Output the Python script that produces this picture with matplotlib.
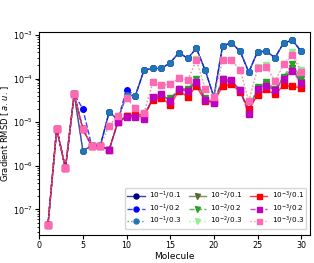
import matplotlib
matplotlib.use('Agg')
import matplotlib.pyplot as plt
import numpy as np
from matplotlib.colors import to_rgba

molecules = np.arange(1, 31)

# 10^-1 series
g1_01 = [4.5e-8, 7.1e-6, 8.7e-7, 4.4e-5, 2.2e-6, 2.9e-6, 2.9e-6, 1.7e-5, 1.15e-5, 4.2e-5,
         4.0e-5, 1.55e-4, 1.7e-4, 1.7e-4, 2.3e-4, 3.9e-4, 2.9e-4, 4.9e-4, 1.55e-4, 3.8e-5,
         5.6e-4, 6.6e-4, 4.2e-4, 1.4e-4, 4.1e-4, 4.2e-4, 3.0e-4, 6.6e-4, 7.5e-4, 4.2e-4]
g1_02 = [4.5e-8, 7.1e-6, 8.7e-7, 4.4e-5, 2.0e-5, 2.9e-6, 2.9e-6, 1.7e-5, 1.15e-5, 5.5e-5,
         4.0e-5, 1.55e-4, 1.7e-4, 1.7e-4, 2.3e-4, 3.9e-4, 2.9e-4, 4.9e-4, 1.55e-4, 3.8e-5,
         5.6e-4, 6.6e-4, 4.2e-4, 1.4e-4, 4.1e-4, 4.2e-4, 3.0e-4, 6.6e-4, 7.5e-4, 4.2e-4]
g1_03 = [4.5e-8, 7.1e-6, 8.7e-7, 4.4e-5, 2.2e-6, 2.9e-6, 2.9e-6, 1.7e-5, 1.15e-5, 4.2e-5,
         4.0e-5, 1.55e-4, 1.7e-4, 1.7e-4, 2.3e-4, 3.9e-4, 2.9e-4, 4.9e-4, 1.55e-4, 3.8e-5,
         5.6e-4, 6.6e-4, 4.2e-4, 1.4e-4, 4.1e-4, 4.2e-4, 3.0e-4, 6.6e-4, 7.5e-4, 4.2e-4]

# 10^-2 series
g2_01 = [4.5e-8, 7.1e-6, 8.7e-7, 4.4e-5, 6.8e-6, 2.9e-6, 2.9e-6, 2.3e-6, 1.0e-5, 1.35e-5,
         1.4e-5, 1.3e-5, 3.5e-5, 4.0e-5, 3.2e-5, 5.5e-5, 5.5e-5, 8.5e-5, 3.3e-5, 2.8e-5,
         8.5e-5, 8.5e-5, 5.2e-5, 1.8e-5, 5.8e-5, 7.5e-5, 5.5e-5, 1.05e-4, 1.7e-4, 8.5e-5]
g2_02 = [4.5e-8, 7.1e-6, 8.7e-7, 4.4e-5, 6.8e-6, 2.9e-6, 2.9e-6, 2.3e-6, 1.0e-5, 1.35e-5,
         1.4e-5, 1.3e-5, 3.6e-5, 3.8e-5, 3.5e-5, 5.8e-5, 5.9e-5, 9.5e-5, 3.6e-5, 3.0e-5,
         9.5e-5, 8.8e-5, 5.5e-5, 1.9e-5, 6.4e-5, 8.3e-5, 5.8e-5, 1.1e-4, 2.2e-4, 9.5e-5]
g2_03 = [4.5e-8, 7.1e-6, 8.7e-7, 4.4e-5, 6.8e-6, 2.9e-6, 2.9e-6, 8.3e-6, 1.4e-5, 3.5e-5,
         2.1e-5, 1.6e-5, 8.1e-5, 7.0e-5, 7.3e-5, 1.03e-4, 9.1e-5, 2.8e-4, 5.9e-5, 3.8e-5,
         2.6e-4, 2.6e-4, 1.6e-4, 3.0e-5, 1.8e-4, 2.0e-4, 8.7e-5, 2.2e-4, 4.0e-4, 1.6e-4]

# 10^-3 series
g3_01 = [4.5e-8, 7.1e-6, 8.7e-7, 4.4e-5, 6.8e-6, 2.9e-6, 2.9e-6, 2.3e-6, 1.0e-5, 1.4e-5,
         1.45e-5, 1.5e-5, 3.3e-5, 3.6e-5, 2.5e-5, 5.2e-5, 3.8e-5, 6.7e-5, 3.0e-5, 2.9e-5,
         6.6e-5, 7.4e-5, 4.9e-5, 2.0e-5, 4.1e-5, 5.6e-5, 4.3e-5, 7.0e-5, 6.6e-5, 6.1e-5]
g3_02 = [4.5e-8, 7.1e-6, 8.7e-7, 4.4e-5, 6.8e-6, 2.9e-6, 2.9e-6, 2.3e-6, 1.0e-5, 1.3e-5,
         1.3e-5, 1.15e-5, 3.8e-5, 4.5e-5, 3.1e-5, 5.7e-5, 5.1e-5, 8.3e-5, 3.3e-5, 2.7e-5,
         1.0e-4, 9.1e-5, 5.4e-5, 1.5e-5, 5.6e-5, 6.7e-5, 5.4e-5, 9.6e-5, 1.5e-4, 7.7e-5]
g3_03 = [4.5e-8, 7.1e-6, 8.7e-7, 4.4e-5, 6.8e-6, 2.9e-6, 2.9e-6, 8.3e-6, 1.4e-5, 3.5e-5,
         2.1e-5, 1.6e-5, 8.1e-5, 7.0e-5, 7.3e-5, 1.03e-4, 9.1e-5, 2.6e-4, 5.9e-5, 3.8e-5,
         2.6e-4, 2.6e-4, 1.6e-4, 3.0e-5, 1.7e-4, 1.85e-4, 8.7e-5, 2.1e-4, 3.4e-4, 1.4e-4]

series = [
    (g1_01, r'$10^{-1}$/0.1', 'navy', '-', 'o'),
    (g1_02, r'$10^{-1}$/0.2', 'blue', '--', 'o'),
    (g1_03, r'$10^{-1}$/0.3', '#1f77b4', ':', 'o'),
    (g2_01, r'$10^{-2}$/0.1', 'darkolivegreen', '-', 'v'),
    (g2_02, r'$10^{-2}$/0.2', '#2ca02c', '--', 'v'),
    (g2_03, r'$10^{-2}$/0.3', 'lightgreen', ':', 'v'),
    (g3_01, r'$10^{-3}$/0.1', 'red', '-', 's'),
    (g3_02, r'$10^{-3}$/0.2', 'm', '--', 's'),
    (g3_03, r'$10^{-3}$/0.3', 'hotpink', ':', 's'),
]

fig = plt.figure(figsize=(3.14, 2.63), dpi=100)
ax = fig.add_axes([0.125, 0.106, 0.862, 0.773])

for vals, label, c, ls, m in series:
    ax.plot(molecules, vals, ls=ls, marker=m, color=to_rgba(c, 0.75),
            mfc=c, mec=c, ms=4, lw=1, label=label)

ax.set_yscale('log')
ax.set_xlim(0, 31)
ax.set_ylim(10**-7.59, 10**-2.93)
ax.set_xticks([0, 5, 10, 15, 20, 25, 30])
ax.tick_params(labelsize=5.8, length=3, pad=1.5)
ax.tick_params(which='minor', length=1.5)
ax.set_xlabel('Molecule', fontsize=6.5, labelpad=1)
ax.set_ylabel(r'Gradient RMSD [$\,a.\,u.\,$]', fontsize=6, labelpad=1)
ax.legend(ncol=3, loc='lower right', fontsize=5.2, handlelength=2.4,
          columnspacing=1.0, handletextpad=0.6, labelspacing=0.05,
          borderpad=0.3, markerscale=0.9, framealpha=0.8,
          bbox_to_anchor=(1.0, 0.01))

fig.savefig('out.png', dpi=100)
